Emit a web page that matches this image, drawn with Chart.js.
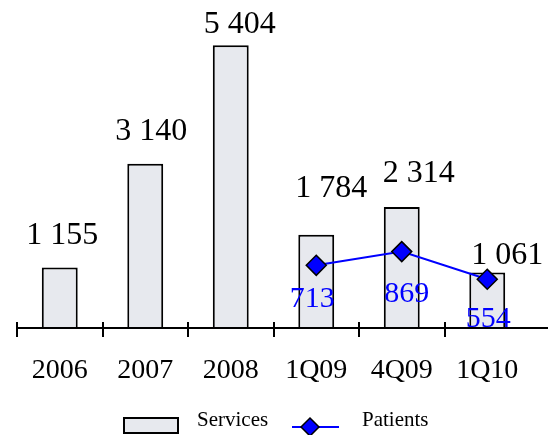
<!DOCTYPE html>
<html>
<head>
<meta charset="utf-8">
<script src="https://cdn.jsdelivr.net/npm/chart.js@4.4.0/dist/chart.umd.min.js"></script>
<style>
  body { margin: 0; background: #fff; }
  #wrap { width: 548px; height: 435px; position: relative; }
</style>
</head>
<body>
<div id="wrap"><canvas id="chart"></canvas></div>
<script>
// data
const periods = ['2006', '2007', '2008', '1Q09', '4Q09', '1Q10'];
const services = [1155, 3140, 5404, 1784, 2314, 1061];
const patients = [null, null, null, 713, 869, 554];

// where the value labels sit, relative to the bar top / point (px)
const serviceLabelDx = [2.5, 6, 9, 15, 17, 20];
const serviceLabelDy = [-24, -24, -12, -38, -25, -8];
const patientLabelDx = [0, 0, 0, -4, 5, 1];
const patientLabelDy = [0, 0, 0, 42, 50, 48];

const barFill = '#e7e9ee';
const serif = "'Liberation Serif', 'Times New Roman', serif";

function fmt(v) {
  return String(v).replace(/\B(?=(\d{3})+(?!\d))/g, ' ');
}

// x axis line with ticks crossing it
const axisPlugin = {
  id: 'axisLine',
  afterDatasetsDraw(chart) {
    const ctx = chart.ctx;
    const x = chart.scales.x;
    const y = chart.chartArea.bottom;
    const step = x.width / periods.length;
    ctx.save();
    ctx.strokeStyle = '#000';
    ctx.lineWidth = 2;
    ctx.beginPath();
    ctx.moveTo(x.left, y);
    ctx.lineTo(chart.width, y);
    for (let i = 0; i < periods.length; i++) {
      const px = Math.round(x.getPixelForValue(i) - step / 2);
      ctx.moveTo(px, y - 6);
      ctx.lineTo(px, y + 9);
    }
    ctx.stroke();
    ctx.restore();
  }
};

// value labels above bars and under the diamonds
const labelPlugin = {
  id: 'valueLabels',
  afterDraw(chart) {
    const ctx = chart.ctx;
    ctx.save();
    ctx.textAlign = 'center';
    ctx.textBaseline = 'alphabetic';

    ctx.font = '32px ' + serif;
    ctx.fillStyle = '#000';
    chart.getDatasetMeta(0).data.forEach((bar, i) => {
      ctx.fillText(fmt(services[i]), bar.x + serviceLabelDx[i], bar.y + serviceLabelDy[i]);
    });

    ctx.font = '30px ' + serif;
    ctx.fillStyle = '#0000ff';
    chart.getDatasetMeta(1).data.forEach((pt, i) => {
      if (patients[i] == null) return;
      ctx.fillText(fmt(patients[i]), pt.x + patientLabelDx[i], pt.y + patientLabelDy[i]);
    });
    ctx.restore();
  }
};

// legend drawn by hand: box for services, line + diamond for patients
const legendPlugin = {
  id: 'customLegend',
  afterDraw(chart) {
    const ctx = chart.ctx;
    ctx.save();
    ctx.fillStyle = barFill;
    ctx.fillRect(124, 418, 54, 15);
    ctx.strokeStyle = '#000';
    ctx.lineWidth = 2;
    ctx.strokeRect(124, 418, 54, 15);

    ctx.strokeStyle = '#0000ff';
    ctx.lineWidth = 2;
    ctx.beginPath();
    ctx.moveTo(292, 427);
    ctx.lineTo(339, 427);
    ctx.stroke();
    ctx.beginPath();
    ctx.moveTo(310, 418);
    ctx.lineTo(319, 427);
    ctx.lineTo(310, 436);
    ctx.lineTo(301, 427);
    ctx.closePath();
    ctx.fillStyle = '#0000ff';
    ctx.fill();
    ctx.strokeStyle = '#000';
    ctx.lineWidth = 1.5;
    ctx.stroke();

    ctx.font = '21px ' + serif;
    ctx.fillStyle = '#000';
    ctx.textAlign = 'left';
    ctx.textBaseline = 'alphabetic';
    ctx.fillText(chart.data.datasets[0].label, 197, 426);
    ctx.fillText(chart.data.datasets[1].label, 362, 426);
    ctx.restore();
  }
};

new Chart(document.getElementById('chart'), {
  type: 'bar',
  data: {
    labels: periods,
    datasets: [
      {
        label: 'Services',
        data: services,
        backgroundColor: barFill,
        borderColor: '#000',
        borderWidth: 2,
        categoryPercentage: 1,
        barPercentage: 0.42,
        yAxisID: 'y',
        order: 1
      },
      {
        type: 'line',
        label: 'Patients',
        data: patients,
        borderColor: '#0000ff',
        borderWidth: 2,
        pointStyle: 'rectRot',
        pointRadius: 10,
        pointBackgroundColor: '#0000ff',
        pointBorderColor: '#000',
        pointBorderWidth: 1.5,
        spanGaps: false,
        yAxisID: 'y2',
        order: 0
      }
    ]
  },
  options: {
    responsive: true,
    maintainAspectRatio: false,
    animation: false,
    layout: { padding: { left: 17, right: 18, top: 0, bottom: 0 } },
    plugins: {
      legend: { display: false },
      tooltip: { enabled: false }
    },
    scales: {
      x: {
        offset: true,
        grid: { display: false },
        border: { display: false },
        ticks: {
          color: '#000',
          font: { family: serif, size: 28 },
          padding: 18,
          maxRotation: 0,
          autoSkip: false
        },
        afterFit(scale) { scale.height = 107; }
      },
      y: { display: false, min: 0, max: 6050 },
      y2: { display: false, min: 0, max: 3600 }
    }
  },
  plugins: [axisPlugin, labelPlugin, legendPlugin]
});
</script>
</body>
</html>
